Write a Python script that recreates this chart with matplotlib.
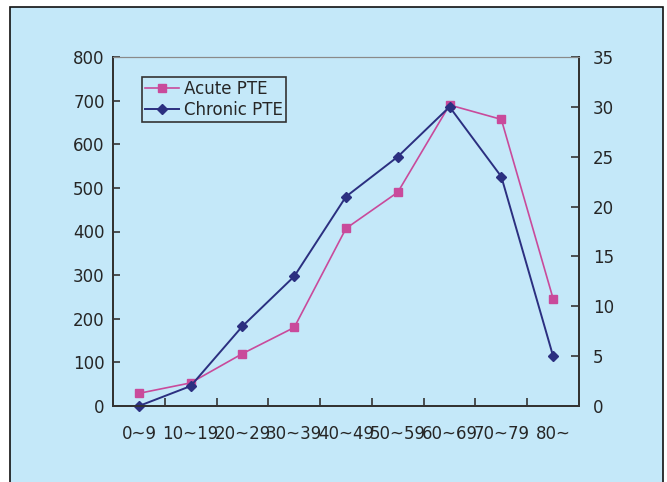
import matplotlib
matplotlib.use("Agg")
import matplotlib.pyplot as plt
from matplotlib.patches import Rectangle

categories = ["0~9", "10~19", "20~29", "30~39", "40~49", "50~59", "60~69", "70~79", "80~"]
acute_pte = [29, 53, 120, 180, 407, 490, 690, 657, 246]
chronic_pte = [0, 2, 8, 13, 21, 25, 30, 23, 5]
left_ticks = [0, 100, 200, 300, 400, 500, 600, 700, 800]
right_ticks = [0, 5, 10, 15, 20, 25, 30, 35]

BG = "#C4E8F9"
ACUTE = "#C94A9B"
CHRONIC = "#2B2F80"
TXT = "#262626"

plt.rcParams["font.family"] = ["DejaVu Sans"]

W, H = 667, 482
fig = plt.figure(figsize=(W / 100, H / 100), dpi=100)
fig.patch.set_facecolor("white")
bgrect = Rectangle((10 / W, -0.05), (663 - 10) / W, (H - 7) / H + 0.05,
                   transform=fig.transFigure, facecolor=BG,
                   edgecolor="#111111", linewidth=1.2, zorder=-10)
fig.patches.append(bgrect)

x0, x1 = 113, 579
ytop, ybot = 57, 406
ax = fig.add_axes([x0 / W, (H - ybot) / H, (x1 - x0) / W, (ybot - ytop) / H])
ax.patch.set_alpha(0)
ax2 = ax.twinx()
ax2.patch.set_alpha(0)

xs = list(range(len(categories)))
l1, = ax.plot(xs, acute_pte, color=ACUTE, linewidth=1.2, marker="s", markersize=5.5,
              label="Acute PTE", clip_on=False)
l2, = ax2.plot(xs, chronic_pte, color=CHRONIC, linewidth=1.4, marker="D", markersize=5,
               label="Chronic PTE", clip_on=False)

ax.set_xlim(-0.5, len(categories) - 0.5)
ax.set_ylim(0, 800)
ax2.set_ylim(0, 35)
ax.set_yticks(left_ticks)
ax2.set_yticks(right_ticks)

# category labels at centers, tick marks at boundaries
ax.set_xticks([i + 0.5 for i in range(len(categories) - 1)])
ax.set_xticklabels([])
ax.set_xticks(xs, minor=True)
ax.set_xticklabels(categories, minor=True)
ax.tick_params(axis="x", which="major", direction="in", length=6, width=1.2, color="#333333")
ax.tick_params(axis="x", which="minor", length=0, pad=14, labelsize=12, labelcolor=TXT)
ax.tick_params(axis="y", direction="in", length=5, width=1.2, color="#333333",
               pad=6, labelsize=12, labelcolor=TXT)
ax2.tick_params(axis="y", direction="in", length=6, width=1.2, color="#333333",
                pad=10, labelsize=12, labelcolor=TXT)

for a in (ax, ax2):
    for s in ("left", "right", "bottom"):
        a.spines[s].set_color("#333333")
        a.spines[s].set_linewidth(1.4)
    a.spines["top"].set_color("#8a8a8a")
    a.spines["top"].set_linewidth(0.8)

leg = ax2.legend([l1, l2], ["Acute PTE", "Chronic PTE"], loc="upper left",
                 bbox_to_anchor=(0.062, 0.943), borderaxespad=0, fontsize=12,
                 frameon=True, fancybox=False, framealpha=1, facecolor=BG,
                 edgecolor="#333333", handlelength=2.0, handletextpad=0.3,
                 borderpad=0.2, labelspacing=0.15)
leg.get_frame().set_linewidth(1.2)
for t in leg.get_texts():
    t.set_color(TXT)

fig.savefig("out.png", dpi=100)
